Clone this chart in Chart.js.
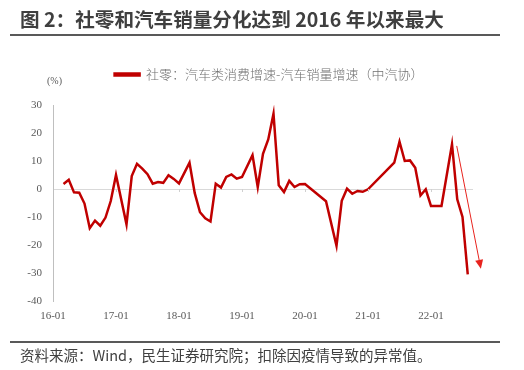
<!DOCTYPE html>
<html><head><meta charset="utf-8">
<script src="https://cdn.jsdelivr.net/npm/chart.js@4"></script>
<style>
html,body{margin:0;padding:0;background:#fff;}
#wrap{position:relative;width:524px;height:370px;overflow:hidden;background:#fff;}
#c{position:absolute;left:0;top:0;}
.title{position:absolute;left:20px;top:5px;font-family:"Noto Sans CJK SC";font-weight:bold;font-size:19.6px;color:#3f3f3f;white-space:nowrap;line-height:28px;}
.rule{position:absolute;left:10px;width:490px;height:2px;background:#595959;}
.foot{position:absolute;left:20px;top:345px;font-family:"Noto Sans CJK SC";font-size:14.5px;color:#404040;white-space:nowrap;line-height:20px;}
.unit{position:absolute;left:47px;top:75px;font-family:"Liberation Serif";font-size:10px;color:#595959;}
</style></head>
<body>
<div id="wrap">
<canvas id="c" width="524" height="370"></canvas>
<div class="title">图 2：社零和汽车销量分化达到 2016 年以来最大</div>
<div class="rule" style="top:34px"></div>
<div class="unit">(%)</div>
<div class="rule" style="top:341px"></div>
<div class="foot">资料来源：Wind，民生证券研究院；扣除因疫情导致的异常值。</div>
</div>
<script>
// categories: months 2016-01 .. 2022-09
const years = [2016, 2017, 2018, 2019, 2020, 2021, 2022];
const months = [];
years.forEach(y => { for (let m = 1; m <= 12; m++) { if (y === 2022 && m > 9) break; months.push(y + '-' + String(m).padStart(2, '0')); } });

const seriesName = '社零：汽车类消费增速-汽车销量增速（中汽协）';
// values (%), null = not shown (Feb / pandemic anomalies)
const v2016 = [null, null, 1.8, 3.3, -1.2, -1.3, -5.2, -14.0, -11.3, -13.1, -10.2, -4.3];
const v2017 = [5.0, null, -12.6, 4.6, 9.0, 7.3, 5.3, 1.9, 2.5, 2.2, 4.9, 3.6];
const v2018 = [2.0, null, 9.4, -1.5, -8.3, -10.5, -11.6, 1.9, 0.5, 4.3, 5.2, 3.7];
const v2019 = [4.3, null, 12.1, 0.7, 12.6, 17.7, 26.9, 1.3, -1.1, 2.9, 0.7, 1.7];
const v2020 = [1.8, null, null, null, -4.4, null, -20.3, -4.2, 0.1, -1.7, -0.7, -1.0];
const v2021 = [-0.1, null, null, null, null, 9.4, 16.9, 10.0, 10.2, 7.6, -2.3, -0.1];
const v2022 = [-6.1, null, -6.1, null, 16.0, -3.7, -10.0, -30.5, null];
const values = [].concat(v2016, v2017, v2018, v2019, v2020, v2021, v2022);

const yTicks = [-40, -30, -20, -10, 0, 10, 20, 30];
// arrow annotation in data space [month index, value]
const arrowFrom = [76.9, 15.4];
const arrowTo = [81.5, -28.5];

const extras = {
  id: 'extras',
  afterDatasetsDraw(chart) {
    const {ctx, scales: {x, y}} = chart;
    const y0 = y.getPixelForValue(0);
    ctx.save();
    ctx.strokeStyle = '#d0d0d0';
    ctx.lineWidth = 1;
    months.forEach((m, i) => {
      if (m.endsWith('-01') && i > 0) {
        const px = Math.round(x.getPixelForValue(i)) + 0.5;
        ctx.beginPath(); ctx.moveTo(px, y0); ctx.lineTo(px, y0 + 3); ctx.stroke();
      }
    });
    const x1 = x.getPixelForValue(arrowFrom[0]), y1 = y.getPixelForValue(arrowFrom[1]);
    const x2 = x.getPixelForValue(arrowTo[0]), y2 = y.getPixelForValue(arrowTo[1]);
    const ang = Math.atan2(y2 - y1, x2 - x1);
    const hl = 9, hw = 4;
    const bx = x2 - hl * Math.cos(ang), by = y2 - hl * Math.sin(ang);
    ctx.strokeStyle = '#E8231E'; ctx.fillStyle = '#E8231E'; ctx.lineWidth = 1;
    ctx.beginPath(); ctx.moveTo(x1, y1); ctx.lineTo(bx, by); ctx.stroke();
    ctx.beginPath();
    ctx.moveTo(x2, y2);
    ctx.lineTo(bx + hw * Math.sin(ang), by - hw * Math.cos(ang));
    ctx.lineTo(bx - hw * Math.sin(ang), by + hw * Math.cos(ang));
    ctx.closePath(); ctx.fill();
    ctx.restore();
  }
};

new Chart(document.getElementById('c'), {
  type: 'line',
  data: {
    labels: months,
    datasets: [{
      label: seriesName, data: values,
      borderColor: '#C00000', backgroundColor: '#C00000',
      borderWidth: 2.5, pointRadius: 0, tension: 0, spanGaps: true
    }]
  },
  options: {
    responsive: false, animation: false, devicePixelRatio: 1,
    layout: {padding: {left: 14, right: 0, top: 58, bottom: 0}},
    plugins: {
      legend: {display: true, position: 'top',
        labels: {boxWidth: 25, boxHeight: 2, color: '#707070', padding: 10,
          font: {family: 'Noto Sans CJK SC', size: 13, weight: 300}}},
      tooltip: {enabled: false}
    },
    scales: {
      x: {type: 'category', offset: false,
        grid: {display: false, drawTicks: false}, border: {display: false},
        ticks: {autoSkip: false, maxRotation: 0, minRotation: 0, padding: 9, color: '#595959',
          font: {family: 'Liberation Serif', size: 11},
          callback: (v, i) => months[i].endsWith('-01') ? months[i].slice(2) : null},
        afterFit: s => { s.height = 69; }},
      xTop: {type: 'linear', position: 'top', display: true,
        grid: {display: false, drawTicks: false}, border: {display: false}, ticks: {display: false},
        afterFit: s => { s.height = 14; }},
      y: {type: 'linear', min: -40, max: 30,
        afterBuildTicks: s => { s.ticks = yTicks.map(v => ({value: v})); },
        ticks: {padding: 11, color: '#595959', font: {family: 'Liberation Serif', size: 11}},
        grid: {drawTicks: false, lineWidth: 1, color: c => c.tick && c.tick.value === 0 ? '#d9d9d9' : 'rgba(0,0,0,0)'},
        border: {display: true, color: '#bfbfbf', width: 1},
        afterFit: s => { s.width = 39; }},
      yR: {type: 'linear', position: 'right', display: true,
        grid: {display: false, drawTicks: false}, border: {display: false}, ticks: {display: false},
        afterFit: s => { s.width = 51; }}
    }
  },
  plugins: [extras]
});
</script>
</body></html>
